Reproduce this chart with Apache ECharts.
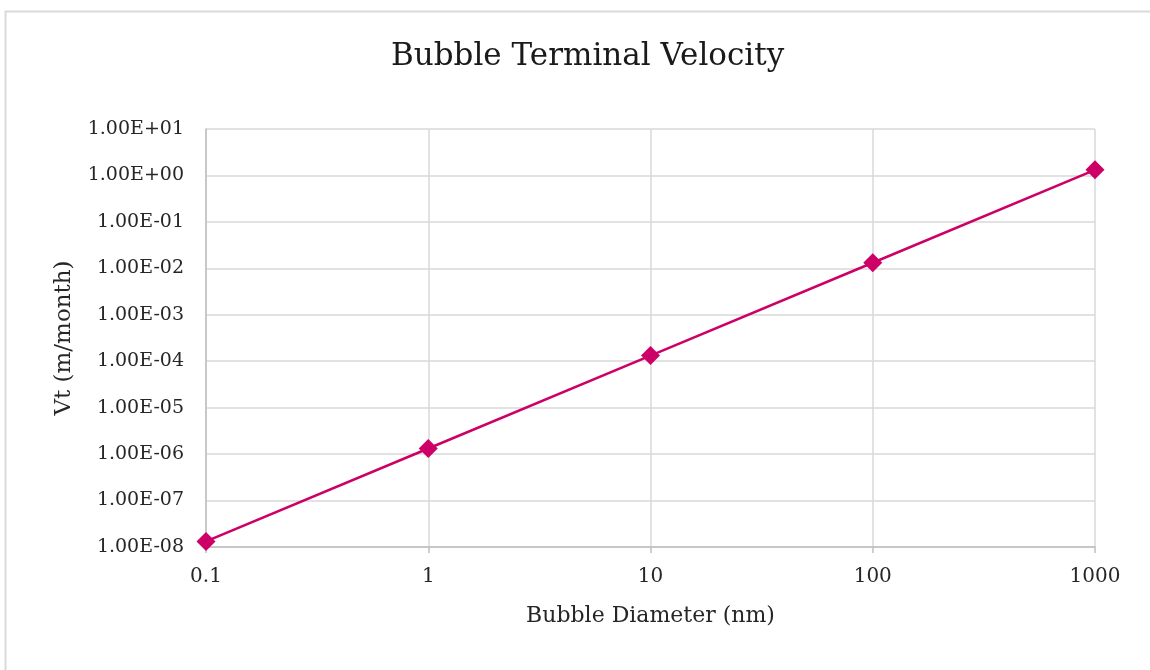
<!DOCTYPE html>
<html>
<head>
<meta charset="utf-8">
<script src="https://cdn.jsdelivr.net/npm/echarts@6/dist/echarts.min.js"></script>
<style>
  html, body { margin: 0; padding: 0; background: #ffffff; }
  #chart { width: 1150px; height: 670px; }
</style>
</head>
<body>
<div id="chart"></div>
<script>
// Bubble diameter (nm) and terminal velocity (m/month)
const diameters = [0.1, 1, 10, 100, 1000];
const velocities = [1.32e-8, 1.32e-6, 1.32e-4, 1.32e-2, 1.32];

const titleText = 'Bubble Terminal Velocity';
const xName = 'Bubble Diameter (nm)';
const yName = 'Vt (m/month)';

const FONT = '"DejaVu Serif", "Liberation Serif", serif';
const GRID_COLOR = '#d9d9d9';

// Excel-style scientific label, e.g. 1.00E-08
function sci(v) {
  const s = Number(v).toExponential(2).toUpperCase();
  return s.replace(/E([+-])(\d)$/, 'E$10$2');
}

const chart = echarts.init(document.getElementById('chart'), null, { renderer: 'canvas' });

chart.setOption({
  animation: false,
  backgroundColor: '#ffffff',
  graphic: [{
    type: 'rect',
    left: 3, top: 9,
    shape: { width: 1200, height: 700 },
    style: { fill: 'none', stroke: '#d9d9d9', lineWidth: 2 },
    silent: true
  }],
  title: {
    text: titleText,
    left: 386,
    top: 36,
    textStyle: { fontFamily: FONT, fontSize: 31, fontWeight: 'normal', color: '#1a1a1a' }
  },
  grid: { left: 206, right: 55, top: 129, bottom: 123 },
  xAxis: {
    type: 'log',
    logBase: 10,
    min: 0.1,
    max: 1000,
    name: xName,
    nameLocation: 'middle',
    nameGap: 58,
    nameTextStyle: { fontFamily: FONT, fontSize: 22, color: '#262626' },
    axisLine: { show: true, lineStyle: { color: '#bfbfbf', width: 1.5 } },
    axisTick: { show: true, length: 6, lineStyle: { color: '#bfbfbf', width: 1.5 } },
    axisLabel: {
      fontFamily: FONT, fontSize: 20, color: '#262626', margin: 20,
      formatter: v => String(Number(v.toPrecision(6)))
    },
    splitLine: { show: true, lineStyle: { color: GRID_COLOR, width: 1.5 } },
    minorTick: { show: false },
    minorSplitLine: { show: false }
  },
  yAxis: {
    type: 'log',
    logBase: 10,
    min: 1e-8,
    max: 10,
    name: yName,
    nameLocation: 'middle',
    nameGap: 130,
    nameRotate: 90,
    nameTextStyle: { fontFamily: FONT, fontSize: 23, color: '#262626' },
    axisLine: { show: true, lineStyle: { color: '#bfbfbf', width: 1.5 } },
    axisTick: { show: false },
    axisLabel: { fontFamily: FONT, fontSize: 19, color: '#262626', margin: 22, formatter: sci },
    splitLine: { show: true, lineStyle: { color: GRID_COLOR, width: 1.5 } }
  },
  series: [{
    type: 'line',
    data: diameters.map((d, i) => [d, velocities[i]]),
    symbol: 'diamond',
    symbolSize: 19,
    showSymbol: true,
    itemStyle: { color: '#cc0066' },
    lineStyle: { color: '#cc0066', width: 2.5 },
    clip: false
  }]
});
</script>
</body>
</html>
